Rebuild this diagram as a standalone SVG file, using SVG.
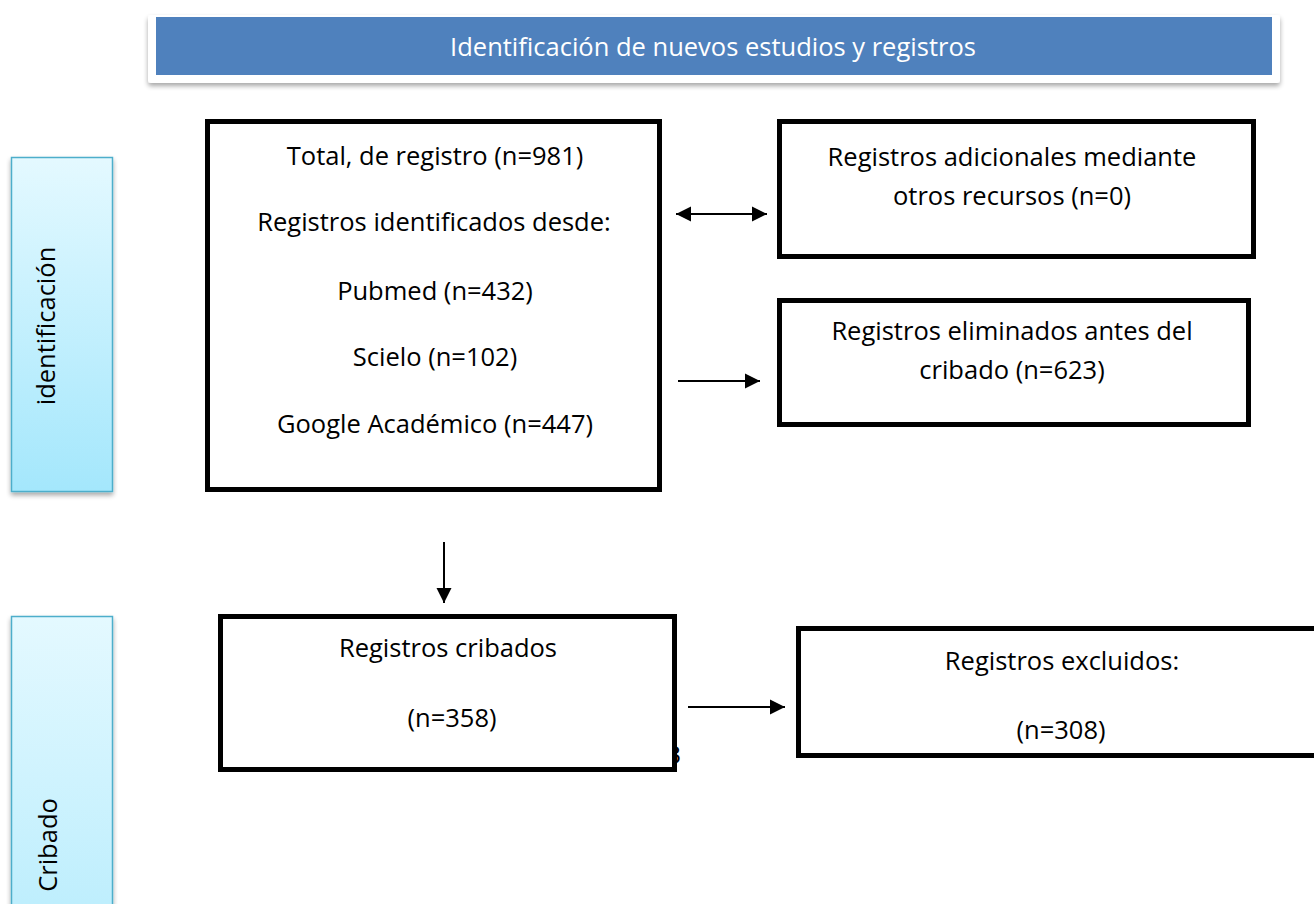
<svg xmlns="http://www.w3.org/2000/svg" width="1314" height="904" viewBox="0 0 1314 904">
<defs>
<linearGradient id="barGrad" x1="0" y1="0" x2="0" y2="1">
<stop offset="0" stop-color="#e4f9ff"/>
<stop offset="1" stop-color="#a4e7fc"/>
</linearGradient>
<linearGradient id="barGrad2" x1="0" y1="0" x2="0" y2="1">
<stop offset="0" stop-color="#e4f9ff"/>
<stop offset="1" stop-color="#bdeefd"/>
</linearGradient>
<filter id="shadow" x="-5%" y="-20%" width="110%" height="150%">
<feGaussianBlur in="SourceAlpha" stdDeviation="2.5"/>
<feOffset dx="0" dy="3" result="b"/>
<feComponentTransfer><feFuncA type="linear" slope="0.35"/></feComponentTransfer>
<feMerge><feMergeNode/><feMergeNode in="SourceGraphic"/></feMerge>
</filter>
<marker id="ah" markerWidth="16" markerHeight="16" refX="15" refY="8" orient="auto-start-reverse" markerUnits="userSpaceOnUse">
<path d="M0,0.5 L15,8 L0,15.5 Z" fill="#000"/>
</marker>
</defs>
<style>
.box{fill:#fff;stroke:#000;stroke-width:5}
.t{font-family:"Open Sans","Liberation Sans",sans-serif;font-size:25.5px;fill:#000;text-anchor:middle}
.h{font-family:"Open Sans","Liberation Sans",sans-serif;font-size:25.5px;fill:#fff;text-anchor:middle}
.bar{stroke:#4eaecb;stroke-width:1.5}
.conn{stroke:#000;stroke-width:2;fill:none}
</style>
<rect width="1314" height="904" fill="#fff"/>
<g id="header">
<rect x="148" y="15" width="1132" height="68" rx="3" fill="#fff" filter="url(#shadow)"/>
<rect x="156" y="17" width="1116" height="58" fill="#4f81bd"/>
<text class="h" x="713" y="56">Identificación de nuevos estudios y registros</text>
</g>
<g id="bar-identificacion">
<rect class="bar" x="11.5" y="157.5" width="101" height="334" fill="url(#barGrad)" filter="url(#shadow)"/>
<text class="t" transform="translate(55,326) rotate(-90)">identificación</text>
</g>
<g id="bar-cribado">
<rect class="bar" x="11.5" y="616.5" width="101" height="300" fill="url(#barGrad2)" filter="url(#shadow)"/>
<text class="t" transform="translate(57,845) rotate(-90)">Cribado</text>
</g>
<g id="total">
<rect class="box" x="207.5" y="121.5" width="452" height="368"/>
<text class="t" x="435" y="165">Total, de registro (n=981)</text>
<text class="t" x="434" y="231">Registros identificados desde:</text>
<text class="t" x="435" y="300">Pubmed (n=432)</text>
<text class="t" x="435" y="366">Scielo (n=102)</text>
<text class="t" x="435" y="433">Google Académico (n=447)</text>
</g>
<g id="adicionales">
<rect class="box" x="779.5" y="121.5" width="474" height="135"/>
<text class="t" x="1012" y="166">Registros adicionales mediante</text>
<text class="t" x="1012" y="205">otros recursos (n=0)</text>
</g>
<g id="eliminados">
<rect class="box" x="779.5" y="300.5" width="469" height="124"/>
<text class="t" x="1012" y="340">Registros eliminados antes del</text>
<text class="t" x="1012" y="379">cribado (n=623)</text>
</g>
<g id="cribados">
<text class="t" x="681" y="764" style="text-anchor:end">3</text>
<rect class="box" x="220.5" y="616.5" width="454" height="153"/>
<text class="t" x="448" y="657">Registros cribados</text>
<text class="t" x="452" y="727">(n=358)</text>
</g>
<g id="excluidos">
<rect class="box" x="798.5" y="628.5" width="530" height="127"/>
<text class="t" x="1062" y="670">Registros excluidos:</text>
<text class="t" x="1061" y="739">(n=308)</text>
</g>
<g id="connectors">
<line class="conn" x1="676" y1="214" x2="767" y2="214" marker-start="url(#ah)" marker-end="url(#ah)"/>
<line class="conn" x1="678" y1="381" x2="760" y2="381" marker-end="url(#ah)"/>
<line class="conn" x1="444" y1="542" x2="444" y2="603" marker-end="url(#ah)"/>
<line class="conn" x1="688" y1="707" x2="785" y2="707" marker-end="url(#ah)"/>
</g>
</svg>
